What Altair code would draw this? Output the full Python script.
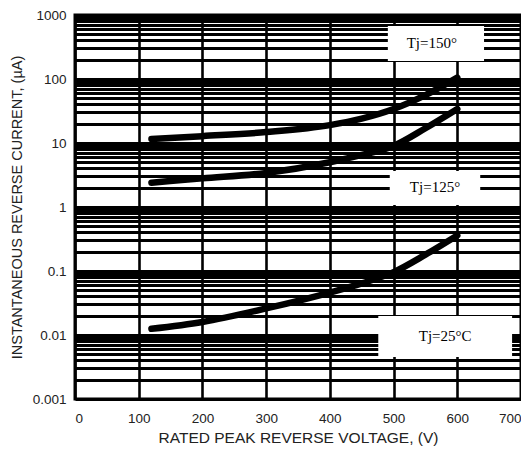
import altair as alt
import pandas as pd

# ---- data ----
volts = [120, 200, 300, 400, 450, 500, 550, 600]
i_150 = [11.5, 12.8, 14.8, 19, 24, 34, 56, 105]
i_125 = [2.4, 2.8, 3.4, 5.0, 6.5, 9.0, 17, 34]
i_25 = [0.0125, 0.016, 0.026, 0.046, 0.064, 0.096, 0.18, 0.36]

x_ticks = [0, 100, 200, 300, 400, 500, 600, 700]
decades = [0.001, 0.01, 0.1, 1, 10, 100, 1000]

label_text = ["Tj=150°", "Tj=125°", "Tj=25°C"]
label_x = [560, 565, 581]
label_y = [365, 2.05, 0.0096]
box_x1 = [491, 494, 476]
box_x2 = [642, 636, 686]
box_y1 = [191, 1.07, 0.00453]
box_y2 = [673, 3.65, 0.0198]

# minor grid values (1..9 x each decade)
y_grid = []
for d in decades[:-1]:
    for m in range(1, 10):
        y_grid.append(round(m * d, 6))
y_grid.append(1000)

rows = []
for name, vals in [("150", i_150), ("125", i_125), ("25", i_25)]:
    for v, c in zip(volts, vals):
        rows.append({"series": name, "V": v, "I": c})
curves = pd.DataFrame(rows)

labels = pd.DataFrame({"text": label_text, "x": label_x, "y": label_y,
                       "x1": box_x1, "x2": box_x2, "y1": box_y1, "y2": box_y2})

xscale = alt.Scale(domain=[0, 700], nice=False, zero=False)
yscale = alt.Scale(type="log", domain=[0.001, 1000], nice=False)

xaxis = alt.Axis(values=x_ticks, grid=True, gridColor="black", gridWidth=2.6,
                 gridOpacity=1, ticks=False, domain=False, labelFont="Liberation Sans",
                 labelFontSize=13.5, labelColor="#222", labelPadding=12,
                 title="RATED PEAK REVERSE VOLTAGE, (V)", titleFont="Liberation Sans",
                 titleFontSize=15.5, titleFontWeight="normal", titleColor="#222",
                 titlePadding=6)
yaxis = alt.Axis(values=y_grid, grid=True, gridColor="black", gridWidth=3,
                 gridOpacity=1, ticks=False, domain=False, labelFont="Liberation Sans",
                 labelFontSize=13.5, labelColor="#222", labelPadding=9,
                 labelExpr="abs(log(datum.value)/LN10 - round(log(datum.value)/LN10)) < 1e-6 ? format(datum.value, '~g') : ''",
                 title="INSTANTANEOUS REVERSE CURRENT, (µA)", titleFont="Liberation Sans",
                 titleFontSize=14.5, titleFontWeight="normal", titleColor="#222",
                 titlePadding=8)

lines = alt.Chart(curves).mark_line(color="black", strokeWidth=6.5, strokeCap="round",
                                    interpolate="monotone").encode(
    x=alt.X("V:Q", scale=xscale, axis=xaxis),
    y=alt.Y("I:Q", scale=yscale, axis=yaxis),
    detail="series:N",
)

boxes = alt.Chart(labels).mark_rect(color="white").encode(
    x=alt.X("x1:Q", scale=xscale), x2="x2:Q",
    y=alt.Y("y1:Q", scale=yscale), y2="y2:Q",
)

texts = alt.Chart(labels).mark_text(font="Liberation Serif", fontSize=15,
                                    color="black").encode(
    x=alt.X("x:Q", scale=xscale), y=alt.Y("y:Q", scale=yscale), text="text:N"
)

chart = alt.layer(boxes, texts, lines).properties(
    width=446, height=384,
    autosize="none",
    padding={"left": 67, "top": 7, "right": 0, "bottom": 54},
).configure_view(stroke="black", strokeWidth=3)

chart.save("out.html", embed_options={"renderer": "svg", "actions": False})
